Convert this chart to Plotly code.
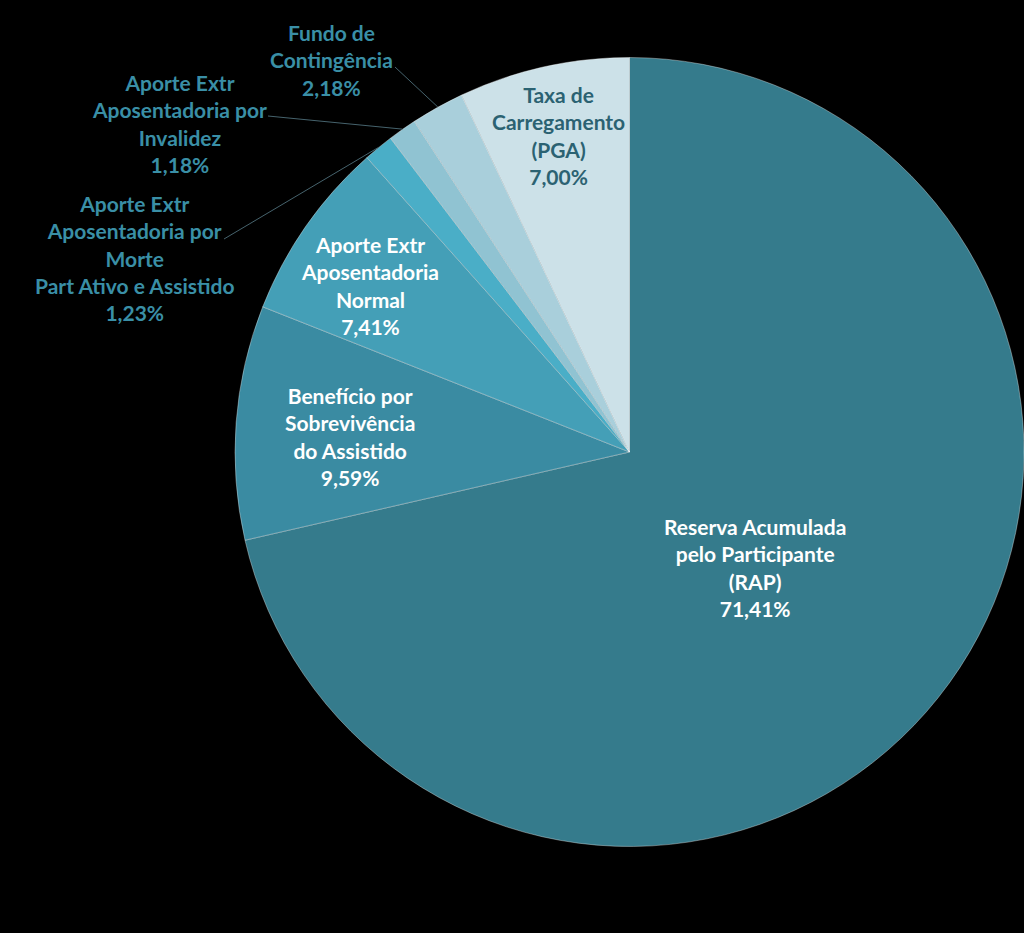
import plotly.graph_objects as go
import math

# ---- data ----
labels = [
    "Reserva Acumulada<br>pelo Participante<br>(RAP)",
    "Benefício por<br>Sobrevivência<br>do Assistido",
    "Aporte Extr<br>Aposentadoria<br>Normal",
    "Aporte Extr<br>Aposentadoria por<br>Morte<br>Part Ativo e Assistido",
    "Aporte Extr<br>Aposentadoria por<br>Invalidez",
    "Fundo de<br>Contingência",
    "Taxa de<br>Carregamento<br>(PGA)",
]
values = [71.41, 9.59, 7.41, 1.23, 1.18, 2.18, 7.00]
pct_text = ["71,41%", "9,59%", "7,41%", "1,23%", "1,18%", "2,18%", "7,00%"]

# ---- style ----
colors = ["#357B8C", "#3A8BA2", "#449FB7", "#4AAEC7", "#90C3D2", "#A9CFDB", "#CCE1E8"]
W, H = 1024, 933
CX, CY, R = 630, 452, 395
# label centres (px) and text colours
label_pos = [(755, 567), (350, 436), (370, 285), (134, 258), (179, 123), (331, 60), (558, 136)]
label_col = ["#FFFFFF", "#FFFFFF", "#FFFFFF", "#3A8FA6", "#3A8FA6", "#3A8FA6", "#2B6272"]
# leader line starting points (px) for outside labels
leader_start = {3: (224, 239), 4: (268, 116), 5: (395, 67)}
FONT = "Lato"

fig = go.Figure()
fig.add_trace(go.Pie(
    values=values,
    labels=[l.replace("<br>", " ") for l in labels],
    sort=False,
    direction="clockwise",
    rotation=0,
    textinfo="none",
    hoverinfo="skip",
    marker=dict(colors=colors, line=dict(color="rgba(255,255,255,0.35)", width=1)),
    domain=dict(x=[(CX - R) / W, 1.0], y=[(H - CY - R) / H, (H - CY + R) / H]),
    showlegend=False,
))

def px(x, y):
    return x / W, 1 - y / H

annotations = []
shapes = []
total = sum(values)
cum = 0.0
for i, v in enumerate(values):
    mid = (cum + v / 2) / total * 2 * math.pi
    cum += v
    x, y = px(*label_pos[i])
    annotations.append(dict(
        x=x, y=y, xref="paper", yref="paper", showarrow=False,
        text="<b>" + labels[i] + "<br>" + pct_text[i] + "</b>",
        font=dict(family=FONT, size=21, color=label_col[i]),
        align="center", xanchor="center", yanchor="middle",
    ))
    if i in leader_start:
        ex = CX + R * math.sin(mid)
        ey = CY - R * math.cos(mid)
        sx, sy = leader_start[i]
        x0, y0 = px(sx, sy)
        x1, y1 = px(ex, ey)
        shapes.append(dict(type="line", xref="paper", yref="paper",
                           x0=x0, y0=y0, x1=x1, y1=y1,
                           line=dict(color="#46636D", width=1)))

fig.update_layout(
    width=W, height=H,
    margin=dict(l=0, r=0, t=0, b=0),
    paper_bgcolor="#000000",
    plot_bgcolor="#000000",
    annotations=annotations,
    shapes=shapes,
)

fig.write_html("out.html")
